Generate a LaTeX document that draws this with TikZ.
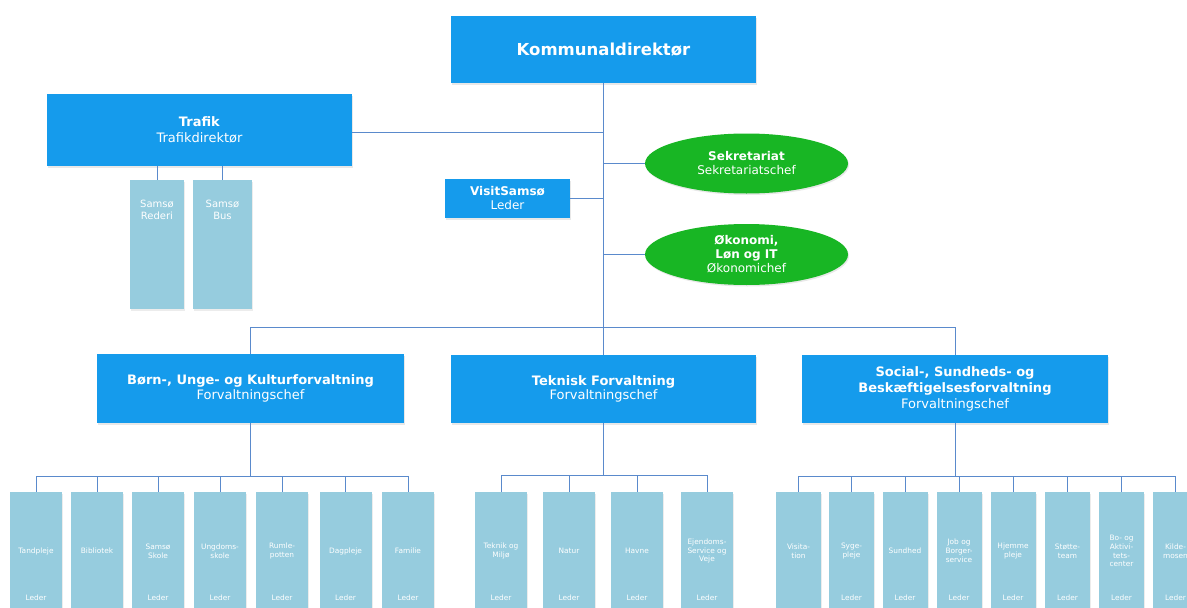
\documentclass[tikz,border=0pt]{standalone}
\usepackage{fontspec}
\setmainfont{DejaVu Sans}
\usetikzlibrary{shapes.geometric,shadows}
\definecolor{mainblue}{RGB}{21,155,236}
\definecolor{leafblue}{RGB}{150,204,222}
\definecolor{okgreen}{RGB}{24,182,36}
\definecolor{linkblue}{RGB}{90,138,204}
\tikzset{
  mainbox/.style={rectangle, fill=mainblue, text=white, align=center, inner sep=0pt,
    drop shadow={shadow xshift=1pt, shadow yshift=-1.5pt, opacity=0.18}},
  greenell/.style={ellipse, fill=okgreen, text=white, align=center, inner sep=0pt,
    minimum width=203, minimum height=60,
    drop shadow={shadow xshift=1pt, shadow yshift=-1.5pt, opacity=0.18},
    font=\fontsize{12}{14}\selectfont},
  leafbox/.style={rectangle, fill=leafblue, inner sep=0pt, minimum height=133,
    drop shadow={shadow xshift=1pt, shadow yshift=-1.5pt, opacity=0.15}},
  leaftxt/.style={text=white, align=center, inner sep=0pt, font=\fontsize{7.4}{8.8}\selectfont},
  link/.style={draw=linkblue, line width=0.95pt}
}
\newcommand{\orgleaf}[5]{%
  \node[leafbox, minimum width=#3] (#1) at (#2,558.5) {};
  \node[leaftxt] (#1t) at (#2,551) {#4};
  \node[leaftxt] (#1l) at (#2,598) {#5};
}
\begin{document}
\begin{tikzpicture}[x=1pt,y=-1pt]
\useasboundingbox (0,0) rectangle (1187,608);
\clip (0,0) rectangle (1187,608);
\fill[white] (0,0) rectangle (1187,608);

% ---- top level
\node[mainbox, minimum width=305, minimum height=67, font=\fontsize{16.5}{19}\selectfont\bfseries]
  (kd) at (603.5,49.5) {Kommunaldirektør};
\node[mainbox, minimum width=305, minimum height=72, font=\fontsize{13}{16}\selectfont]
  (trafik) at (199.5,130) {\textbf{Trafik}\\Trafikdirektør};
\node[leafbox, minimum width=54, minimum height=129] (rederi) at (157,244.5) {};
\node[leafbox, minimum width=59, minimum height=129] (bus) at (222.5,244.5) {};
\node[text=white, align=center, inner sep=0pt, font=\fontsize{10}{12}\selectfont, anchor=north]
  (rederit) at (157,200) {Samsø\\Rederi};
\node[text=white, align=center, inner sep=0pt, font=\fontsize{10}{12}\selectfont, anchor=north]
  (bust) at (222.5,200) {Samsø\\Bus};
\node[mainbox, minimum width=125, minimum height=39, font=\fontsize{12}{14}\selectfont]
  (visit) at (507.5,198.5) {\textbf{VisitSamsø}\\Leder};
\node[greenell] (sek) at (746.5,163.5) {\textbf{Sekretariat}\\Sekretariatschef};
\node[greenell, minimum height=61] (oko) at (746.5,254.5) {\textbf{Økonomi,}\\\textbf{Løn og IT}\\Økonomichef};

% ---- departments
\node[mainbox, minimum width=307, minimum height=69, font=\fontsize{13}{14.5}\selectfont]
  (born) at (250.5,388.5) {\textbf{Børn-, Unge- og Kulturforvaltning}\\Forvaltningschef};
\node[mainbox, minimum width=305, minimum height=68, font=\fontsize{13}{14.5}\selectfont]
  (tek) at (603.5,389) {\textbf{Teknisk Forvaltning}\\Forvaltningschef};
\node[mainbox, minimum width=306, minimum height=68, font=\fontsize{13}{15.8}\selectfont]
  (soc) at (955,389) {\textbf{Social-, Sundheds- og}\\\textbf{Beskæftigelsesforvaltning}\\Forvaltningschef};

% ---- leaves
\orgleaf{tand}{36}{52}{Tandpleje}{Leder}
\orgleaf{bib}{97}{52}{Bibliotek}{}
\orgleaf{skole}{158}{52}{Samsø\\Skole}{Leder}
\orgleaf{ung}{220}{52}{Ungdoms-\\skole}{Leder}
\orgleaf{rumle}{282}{52}{Rumle-\\potten}{Leder}
\orgleaf{dag}{345.5}{52}{Dagpleje}{Leder}
\orgleaf{fam}{408}{52}{Familie}{Leder}

\orgleaf{tm}{501}{52}{Teknik og\\Miljø}{Leder}
\orgleaf{nat}{569}{52}{Natur}{Leder}
\orgleaf{hav}{637}{52}{Havne}{Leder}
\orgleaf{ejd}{707}{52}{Ejendoms-\\Service og\\Veje}{Leder}

\orgleaf{vis}{798.5}{45}{Visita-\\tion}{}
\orgleaf{syg}{851.5}{45}{Syge-\\pleje}{Leder}
\orgleaf{sund}{905}{45}{Sundhed}{Leder}
\orgleaf{job}{959}{45}{Job og\\Borger-\\service}{Leder}
\orgleaf{hjem}{1013}{45}{Hjemme\\pleje}{Leder}
\orgleaf{stot}{1067.5}{45}{Støtte-\\team}{Leder}
\orgleaf{bo}{1121.5}{45}{Bo- og\\Aktivi-\\tets-\\center}{Leder}
\orgleaf{kilde}{1175.5}{45}{Kilde-\\mosen}{Leder}

% ---- connectors
\coordinate (bus1) at (603,327);
\draw[link] (kd.south) -- (tek.north);
\draw[link] (trafik.east |- 0,132) -- (603,132);
\draw[link] (visit.east) -- (visit.east -| kd.south);
\draw[link] (sek.west) -- (sek.west -| kd.south);
\draw[link] (oko.west) -- (oko.west -| kd.south);
\draw[link] (rederi.north |- 0,179.5) -- (rederi.north |- trafik.south);
\draw[link] (bus.north |- 0,179.5) -- (bus.north |- trafik.south);
\draw[link] (born.north) -- (born.north |- bus1) -- (soc.north |- bus1) -- (soc.north);

\draw[link] (born.south) -- (born.south |- 0,476);
\draw[link] (tand.north) -- (tand.north |- 0,476) -- (fam.north |- 0,476) -- (fam.north);
\foreach \n in {bib,skole,ung,rumle,dag}{\draw[link] (\n.north) -- (\n.north |- 0,476);}

\draw[link] (tek.south) -- (tek.south |- 0,475);
\draw[link] (tm.north) -- (tm.north |- 0,475) -- (ejd.north |- 0,475) -- (ejd.north);
\foreach \n in {nat,hav}{\draw[link] (\n.north) -- (\n.north |- 0,475);}

\draw[link] (soc.south) -- (soc.south |- 0,476);
\draw[link] (vis.north) -- (vis.north |- 0,476) -- (kilde.north |- 0,476) -- (kilde.north);
\foreach \n in {syg,sund,job,hjem,stot,bo}{\draw[link] (\n.north) -- (\n.north |- 0,476);}
\end{tikzpicture}
\end{document}
